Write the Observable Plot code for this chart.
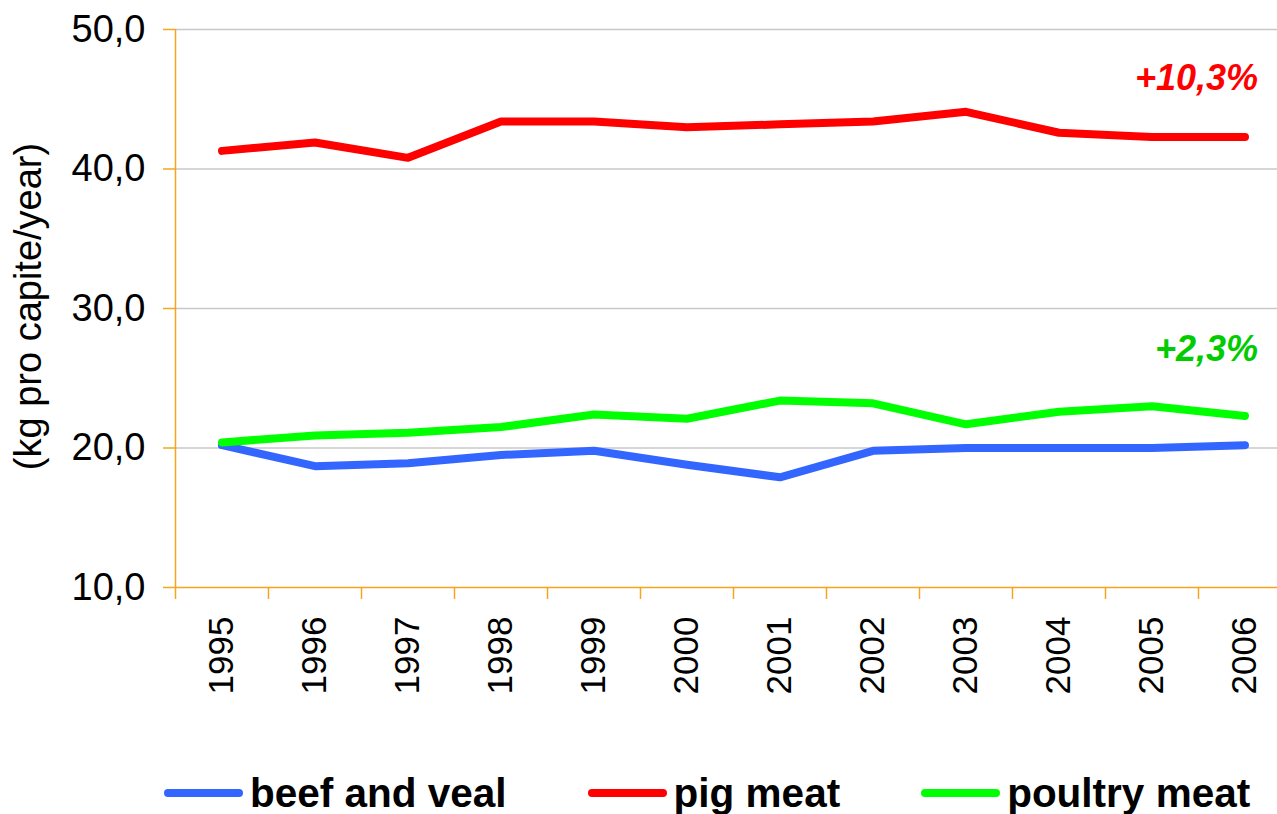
<!DOCTYPE html>
<html>
<head>
<meta charset="utf-8">
<script src="https://cdn.jsdelivr.net/npm/d3@7"></script>
<script src="https://cdn.jsdelivr.net/npm/@observablehq/plot@0.6"></script>
<style>
  html, body { margin: 0; padding: 0; background: #fff; }
  body { width: 1277px; height: 814px; overflow: hidden; font-family: "Liberation Sans", Arial, sans-serif; }
  #legend { display: flex; align-items: center; gap: 81px; padding-left: 164px; padding-top: 32px; height: 41px; }
  .item { display: flex; align-items: center; gap: 7px; }
  .swatch { width: 79px; height: 8px; border-radius: 4px; }
  .item span.lab { font-weight: bold; font-size: 40.5px; line-height: 40px; color: #000; }
</style>
</head>
<body>
<div id="chart"></div>
<div id="legend"></div>
<script>
// Meat consumption per capita, 1995-2006 (kg pro capite/year)
const years = ["1995", "1996", "1997", "1998", "1999", "2000", "2001", "2002", "2003", "2004", "2005", "2006"];
const seriesNames = ["beef and veal", "pig meat", "poultry meat"];
const seriesColors = ["#3366ff", "#ff0000", "#00ff00"];
const beefAndVeal = [20.2, 18.7, 18.9, 19.5, 19.8, 18.8, 17.9, 19.8, 20.0, 20.0, 20.0, 20.2];
const pigMeat = [41.3, 41.9, 40.8, 43.4, 43.4, 43.0, 43.2, 43.4, 44.1, 42.6, 42.3, 42.3];
const poultryMeat = [20.4, 20.9, 21.1, 21.5, 22.4, 22.1, 23.4, 23.2, 21.7, 22.6, 23.0, 22.3];
const yTicks = [10, 20, 30, 40, 50];
const gridValues = [20, 30, 40, 50];
const pigChange = "+10,3%";
const poultryChange = "+2,3%";

const seriesValues = [beefAndVeal, pigMeat, poultryMeat];
const rows = seriesNames.flatMap((name, s) =>
  years.map((year, i) => ({series: name, year, value: seriesValues[s][i]}))
);
const last = years.length - 1;
const pigEnd = [{year: years[last], value: pigMeat[last], label: pigChange}];
const poultryEnd = [{year: years[last], value: poultryMeat[last], label: poultryChange}];

const orange = "#f7a51c";
const font = '"Liberation Sans", Arial, sans-serif';
const bw = (1291 - 175) / years.length;

const chart = Plot.plot({
  width: 1277,
  height: 740,
  marginTop: 29,
  marginBottom: 153,
  marginLeft: 175,
  marginRight: 0,
  style: {fontFamily: font, fontSize: "34px", color: "#000", background: "#fff", overflow: "visible"},
  x: {type: "band", domain: years, range: [175, 1291], padding: 0},
  y: {domain: [10, 50]},
  color: {domain: seriesNames, range: seriesColors},
  marks: [
    Plot.ruleY(gridValues, {stroke: "#c8c8c8", strokeWidth: 1.5}),
    // orange y axis: ticks + labels
    Plot.axisY({ticks: yTicks, tickSize: 12, tickPadding: 18, stroke: orange, strokeWidth: 1.5, strokeOpacity: 1,
      tickFormat: d => d.toFixed(1).replace(".", ","), fontSize: 38, label: null}),
    // y axis line at the left edge of the first band
    Plot.ruleX([years[0]], {dx: -bw / 2, y1: 10, y2: 50, stroke: orange, strokeWidth: 1.5}),
    // x axis baseline
    Plot.ruleY([10], {stroke: orange, strokeWidth: 1.5}),
    // category boundary ticks
    Plot.axisX({tickSize: 12, tickFormat: () => "", dx: -bw / 2, stroke: orange, strokeWidth: 1.5, strokeOpacity: 1, label: null}),
    // rotated year labels
    Plot.axisX({tickSize: 0, tickPadding: 29, tickRotate: -90, fontSize: 35, label: null}),
    Plot.text(["(kg pro capite/year)"], {frameAnchor: "left", textAnchor: "middle", rotate: -90, dx: -147, dy: -2, fontSize: 38, fill: "#000"}),
    Plot.line(rows, {x: "year", y: "value", z: "series", stroke: "series", strokeWidth: 8,
      strokeLinecap: "round", strokeLinejoin: "round"}),
    // change over the period, written above each series' end
    Plot.text(pigEnd, {x: "year", y: "value", text: "label", fill: "#ff0000", textAnchor: "end",
      dx: 13, dy: -58, fontSize: 36, fontWeight: "bold", fontStyle: "italic"}),
    Plot.text(poultryEnd, {x: "year", y: "value", text: "label", fill: "#00cc00", textAnchor: "end",
      dx: 13, dy: -66, fontSize: 36, fontWeight: "bold", fontStyle: "italic"})
  ]
});
document.getElementById("chart").appendChild(chart);

const legend = d3.select("#legend");
seriesNames.forEach((name, i) => {
  const item = legend.append("div").attr("class", "item");
  item.append("div").attr("class", "swatch").style("background", seriesColors[i]);
  item.append("span").attr("class", "lab").text(name);
});
</script>
</body>
</html>
